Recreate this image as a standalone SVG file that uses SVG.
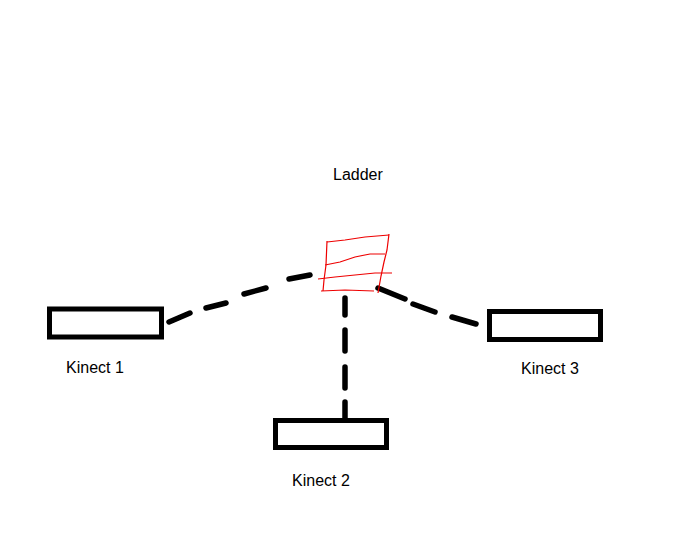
<svg xmlns="http://www.w3.org/2000/svg" width="692" height="548" viewBox="0 0 692 548">
<style>
.box{fill:#fff;stroke:#000;stroke-width:5}
.dash{fill:none;stroke:#000;stroke-width:5.5;stroke-linecap:round}
.lad{fill:none;stroke:#e00;stroke-width:1.2}
.lbl{font-family:"Liberation Sans",Arial,sans-serif;font-size:16px;fill:#000}
</style>
<rect width="692" height="548" fill="#fff"/>
<g id="connectors">
<path class="dash" d="M169,322 L190,313 M206,308 L226,303 M244,294 L266,288 M289,279 L310,275"/>
<path class="dash" d="M345,298 L345,315 M345,330 L345,351 M345,367 L345,388 M345,402 L345,423"/>
<path class="dash" d="M378,288 L405,299 M413,304 L435,312 M452,317 L476,324"/>
</g>
<g id="ladder">
<path class="lad" d="M327,242 L345,240 L365,237 L389,235"/>
<path class="lad" d="M327,241 L326,265 L324,280 L323,291"/>
<path class="lad" d="M389,234 L387,250 L384,262 L381,276 L378,293"/>
<path class="lad" d="M325,265 L340,262 L355,257 L370,254 L385,254"/>
<path class="lad" d="M318,279 L335,277 L355,275 L375,273 L392,273"/>
<path class="lad" d="M321,291 L345,290 L374,291"/>
<text class="lbl" x="333" y="180">Ladder</text>
</g>
<g id="kinect1">
<rect class="box" x="49.5" y="309" width="112" height="28"/>
<text class="lbl" x="66" y="373">Kinect 1</text>
</g>
<g id="kinect2">
<rect class="box" x="275.5" y="420.5" width="111" height="27"/>
<text class="lbl" x="292" y="486">Kinect 2</text>
</g>
<g id="kinect3">
<rect class="box" x="489.5" y="311.5" width="111" height="28"/>
<text class="lbl" x="521" y="374">Kinect 3</text>
</g>
</svg>
